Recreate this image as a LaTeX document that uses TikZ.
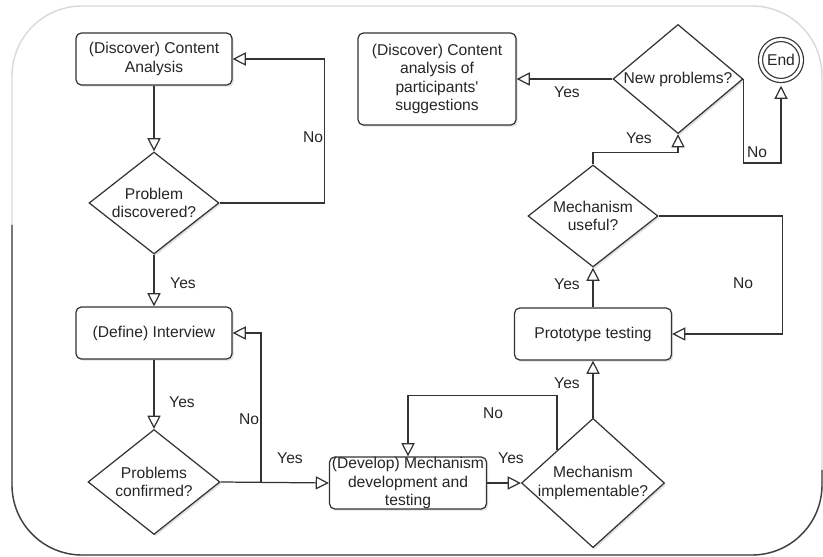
\documentclass[tikz,border=0pt]{standalone}
\usepackage{fontspec}
\setmainfont{Liberation Sans}
\usetikzlibrary{arrows.meta,shapes.geometric,shadows}

\tikzset{
    txt/.style={font=\fontsize{8.9pt}{10.5pt}\selectfont, text=black!85},
    stepbox/.style={txt, draw=black!80, line width=0.7pt, fill=white, rounded corners=3pt,
        align=center, inner sep=0pt, minimum width=3.12cm, minimum height=1.04cm,
        drop shadow={shadow xshift=1pt, shadow yshift=-1pt, opacity=0.25}},
    decision/.style={txt, diamond, draw=black!80, line width=0.7pt, fill=white,
        align=center, inner sep=-2pt, minimum width=2.6cm, minimum height=2.04cm,
        drop shadow={shadow xshift=1pt, shadow yshift=-1pt, opacity=0.25}},
    flow/.style={draw=black!80, line width=0.7pt, -{Triangle[open,length=7.5pt,width=7.5pt]}},
    frame/.style={line width=0.8pt, rounded corners=1.4cm},
}

\begin{document}
\begin{tikzpicture}[x=0.02cm, y=-0.02cm]
            %\draw[lightgray, step=50] (0, 0) grid (823, 557);
            \useasboundingbox (0, 0) rectangle (823, 557);
            \draw[frame, black!15] (12, 6) rectangle (822, 555);
            \draw[frame, black!75] (12, 225) -- (12, 555) -- (822, 555) -- (822, 470);

            \node[stepbox] (ca1) at (154, 59) {(Discover) Content\\Analysis};
            \node[decision] (d1) at (154, 203) {Problem\\discovered?};
            \node[stepbox] (int) at (154, 333) {(Define) Interview};
            \node[decision, minimum width=2.64cm, minimum height=2.1cm] (d2) at (154, 482) {Problems\\confirmed?};
            \node[stepbox, minimum width=3.14cm] (dev) at (408, 483) {(Develop) Mechanism\\development and\\testing};
            \node[decision, minimum width=2.86cm, minimum height=2.32cm] (d3) at (593, 483) {Mechanism\\implementable?};
            \node[stepbox, minimum width=3.14cm] (proto) at (593, 334) {Prototype testing};
            \node[decision] (d4) at (593, 216) {Mechanism\\useful?};
            \node[decision] (d5) at (678, 79) {New problems?};
            \node[stepbox, minimum width=3.16cm, minimum height=1.84cm] (ca2) at (437, 79) {(Discover) Content\\analysis of\\participants\textquotesingle\\suggestions};
            \node[txt, circle, draw=black!80, line width=0.7pt, double, double distance=1.6pt,
                minimum size=0.82cm, inner sep=0pt, outer sep=3pt] (end) at (781, 60) {End};

            \coordinate (jn) at (261, 483);

            \draw[flow] (ca1) -- (d1);
            \draw[flow] (d1.east) -- ++(105, 0) |- (ca1.east);
            \draw[flow] (d1) -- (int);
            \draw[flow] (int) -- (d2);
            \draw[flow] (d2.east) -- (dev.west);
            \draw[flow] (jn) |- (int.east);
            \draw[flow] (dev) -- (d3);
            \draw[flow] (d3.north west) -- ++(0, -55) -| (dev.north);
            \draw[flow] (d3) -- (proto);
            \draw[flow] (proto) -- (d4);
            \draw[flow] (d4.east) -- ++(124, 0) |- (proto.east);
            \draw[flow] (d4.north) -- ++(0, -12) -| (d5.south);
            \draw[flow] (d5) -- (ca2);
            \draw[flow] (d5.east) -- ++(0, 84) -| (end.south);

            \node[txt] (no1) at (313, 137) {No};
            \node[txt] (yes1) at (183, 283) {Yes};
            \node[txt] (yes2) at (182, 402) {Yes};
            \node[txt] (no2) at (249, 419) {No};
            \node[txt] (yes3) at (290, 458) {Yes};
            \node[txt] (yes4) at (511, 458) {Yes};
            \node[txt] (no3) at (493, 413) {No};
            \node[txt] (yes5) at (567, 383) {Yes};
            \node[txt] (yes6) at (567, 284) {Yes};
            \node[txt] (no4) at (743, 283) {No};
            \node[txt] (yes7) at (639, 138) {Yes};
            \node[txt] (yes8) at (567, 92) {Yes};
            \node[txt] (no5) at (757, 152) {No};
        \end{tikzpicture}
\end{document}
